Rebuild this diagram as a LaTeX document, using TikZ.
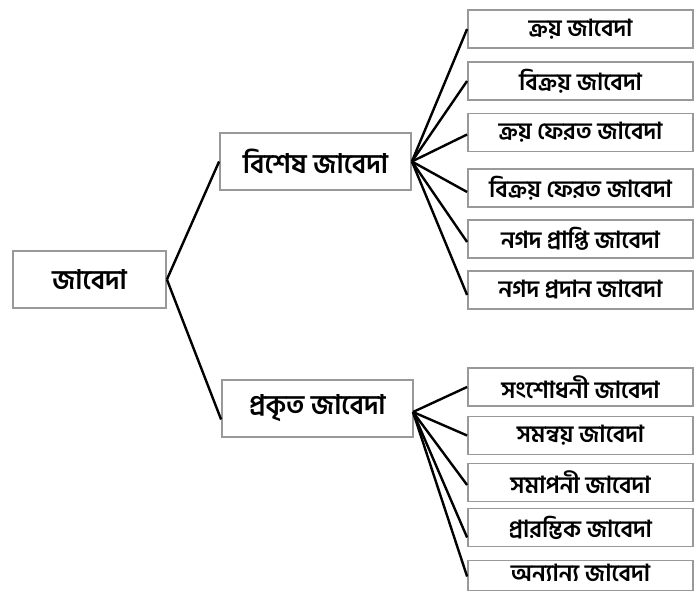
\documentclass[tikz,border=0pt]{standalone}
\usepackage{fontspec}
\newfontfamily\bnfont[Script=Bengali]{Hind Siliguri}
\begin{document}
\begin{tikzpicture}[x=1pt,y=-1pt,
  box/.style={draw=black!40, line width=1.8pt, fill=white, inner sep=0pt, minimum height=38pt, font=\bnfont\bfseries\fontsize{23.5}{25}\selectfont},
  leaf/.style={box, minimum width=225pt},
  midbox/.style={box, minimum width=191pt, minimum height=57pt, font=\bnfont\bfseries\fontsize{27}{30}\selectfont},
  wire/.style={line width=2.4pt, black}]
\clip (0,0) rectangle (696,593);
\fill[white] (0,0) rectangle (696,593);
% Drawing boxes
% Root
\node[midbox, minimum width=153pt] (jabeda) at (89.5,279.5) {জাবেদা};
% Group 1: special journals
\node[midbox] (bishesh) at (315.5,161.5) {বিশেষ জাবেদা};
\node[leaf] (kroy) at (580.5,29) {ক্রয় জাবেদা};
\node[leaf] (bikroy) at (580.5,81) {বিক্রয় জাবেদা};
\node[leaf] (kroyferot) at (580.5,132.5) {ক্রয় ফেরত জাবেদা};
\node[leaf] (bikroyferot) at (580.5,188) {বিক্রয় ফেরত জাবেদা};
\node[leaf] (nogodprapti) at (580.5,239) {নগদ প্রাপ্তি জাবেদা};
\node[leaf] (nogodprodan) at (580.5,290) {নগদ প্রদান জাবেদা};
% Group 2: proper journals
\node[midbox] (prokrito) at (317.5,408.5) {প্রকৃত জাবেদা};
\node[leaf] (songshodhoni) at (580.5,387) {সংশোধনী জাবেদা};
\node[leaf] (somonnoy) at (580.5,435.5) {সমন্বয় জাবেদা};
\node[leaf] (somaponi) at (580.5,482.5) {সমাপনী জাবেদা};
\node[leaf] (prarombhik) at (580.5,527.5) {প্রারম্ভিক জাবেদা};
\node[leaf, minimum height=30pt, text height=17pt, text depth=6pt] (onnanno) at (580.5,575.5) {অন্যান্য জাবেদা};
% Done with boxes; drawing wires
\coordinate (pkfan) at (413,412);
\draw[wire] (jabeda.east) -- (bishesh.west);
\draw[wire] (jabeda.east) -- ([yshift=-11pt]prokrito.west);
\draw[wire] (bishesh.east) -- (kroy.west);
\draw[wire] (bishesh.east) -- (bikroy.west);
\draw[wire] (bishesh.east) -- ([yshift=-2pt]kroyferot.west);
\draw[wire] (bishesh.east) -- ([yshift=-4pt]bikroyferot.west);
\draw[wire] (bishesh.east) -- ([yshift=-3pt]nogodprapti.west);
\draw[wire] (bishesh.east) -- ([yshift=-5pt]nogodprodan.west);
\draw[wire] (pkfan) -- (songshodhoni.west);
\draw[wire] (pkfan) -- (somonnoy.west);
\draw[wire] (pkfan) -- ([yshift=-2.5pt]somaponi.west);
\draw[wire] (pkfan) -- ([yshift=-10pt]prarombhik.west);
\draw[wire] (pkfan) -- ([yshift=-1pt]onnanno.west);
% Done with wires
\end{tikzpicture}
\end{document}
